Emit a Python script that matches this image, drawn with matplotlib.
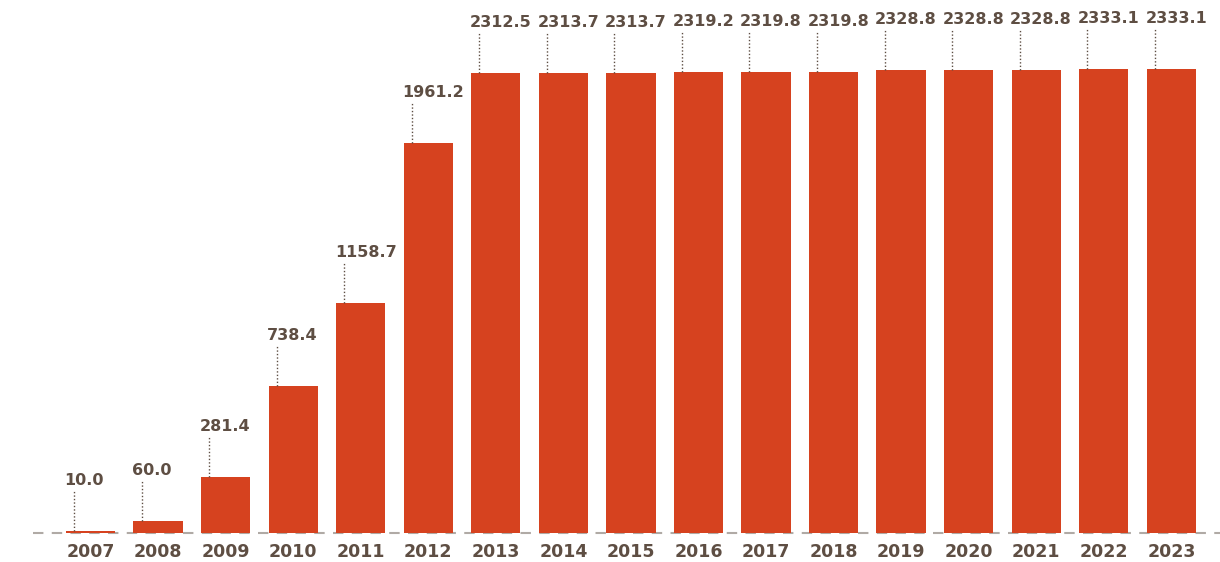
import matplotlib.pyplot as plt

# Data
years = ['2007', '2008', '2009', '2010', '2011', '2012', '2013', '2014', '2015',
         '2016', '2017', '2018', '2019', '2020', '2021', '2022', '2023']
values = [10.0, 60.0, 281.4, 738.4, 1158.7, 1961.2, 2312.5, 2313.7, 2313.7,
          2319.2, 2319.8, 2319.8, 2328.8, 2328.8, 2328.8, 2333.1, 2333.1]

bar_color = '#d6421f'
text_color = '#5e4e43'
font = ['DejaVu Sans Condensed', 'Liberation Sans Narrow', 'DejaVu Sans']

fig = plt.figure(figsize=(12.2, 5.62), dpi=100)
ax = fig.add_axes([0, 29 / 562, 1, 533 / 562])

x = list(range(len(years)))
width = 0.73
ax.bar(x, values, width=width, color=bar_color, zorder=2)

# dashed baseline
ax.plot([-0.85, 16.72], [0, 0], color='#b0aaa5', lw=1.5, ls=(0, (5, 4)),
        zorder=1, clip_on=False)

# value labels with dotted leaders, anchored on the left edge of each bar
for xi, v in zip(x, values):
    left = xi - width / 2
    ax.plot([left + 0.12, left + 0.12], [v, v + 200], color=text_color,
            lw=1, ls=(0, (1, 1.5)), zorder=3)
    ax.text(left - 0.02, v + 215, f'{v:.1f}', ha='left', va='bottom',
            fontsize=11.5, fontweight='bold', color=text_color, family=font)

ax.set_xlim(-1.34, 16.72)
ax.set_ylim(0, 2680)
ax.set_xticks(x)
ax.set_xticklabels(years, fontsize=12.5, fontweight='bold', color=text_color,
                   family=font)
ax.tick_params(axis='x', length=0, pad=7)
ax.set_yticks([])
for s in ax.spines.values():
    s.set_visible(False)

fig.savefig('out.png', dpi=100)
